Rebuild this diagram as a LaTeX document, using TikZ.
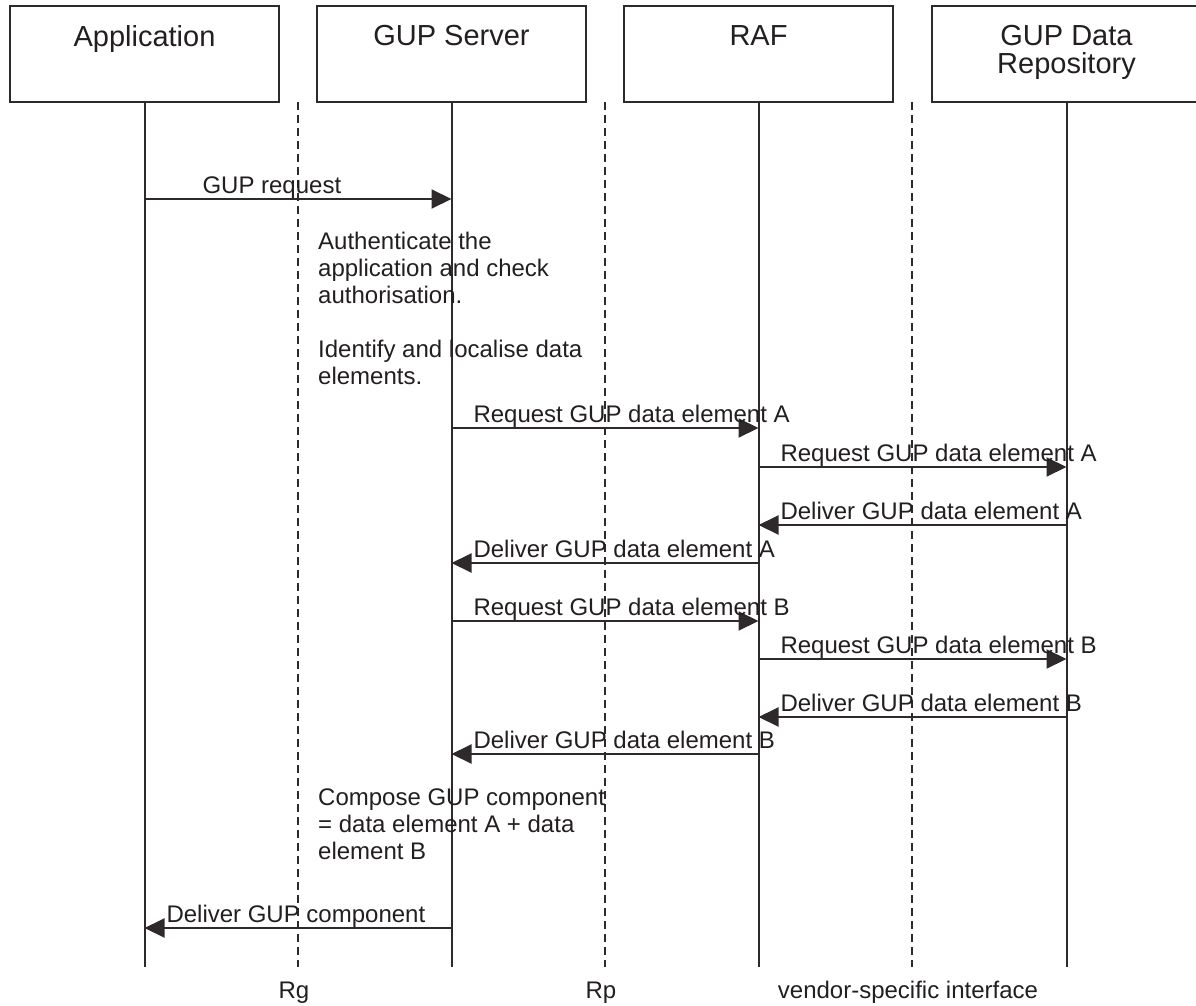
\documentclass[tikz,border=0pt]{standalone}
\usepackage{fontspec}
\setmainfont{Liberation Sans}
\usetikzlibrary{arrows.meta}
\definecolor{ink}{RGB}{46,41,42}
\definecolor{txt}{RGB}{35,31,32}

\begin{document}
\begin{tikzpicture}[x=1pt,y=-1pt,
  actor/.style={draw=ink, line width=2pt, minimum width=269pt, minimum height=96pt, inner sep=0pt},
  actorlabel/.style={font=\fontsize{29}{28}\selectfont, text=txt, align=center, anchor=north, inner sep=0pt},
  life/.style={draw=ink, line width=2pt},
  iface/.style={draw=ink, line width=1.8pt, dash pattern=on 8pt off 5pt},
  msg/.style={draw=ink, line width=2pt, -{Triangle[length=20pt,width=19pt]}},
  lbl/.style={font=\fontsize{24}{27}\selectfont, text=txt, anchor=base west, inner sep=0pt, xshift=21pt, yshift=6pt},
  note/.style={font=\fontsize{24}{27}\selectfont, text=txt, align=left, anchor=north west, inner sep=0pt},
  ifacelabel/.style={font=\fontsize{24}{27}\selectfont, text=txt, anchor=base, inner sep=0pt}
]
\useasboundingbox (0,0) rectangle (1196,1006);
\fill[white] (0,0) rectangle (1196,1006);

% participants
\node[actor] (app) at (144.5,54) {};
\node[actor] (srv) at (451.5,54) {};
\node[actor] (raf) at (758.5,54) {};
\node[actor] (gdr) at (1066.5,54) {};
\node[actorlabel] (appT) at (144.5,25) {Application};
\node[actorlabel] (srvT) at (451.5,25) {GUP Server};
\node[actorlabel] (rafT) at (758.5,25) {RAF};
\node[actorlabel] (gdrT) at (1066.5,25) {GUP Data\\Repository};

% lifelines
\coordinate (lifeEnd) at (0,967);
\draw[life] (app.south) -- (app.south |- lifeEnd);
\draw[life] (srv.south) -- (srv.south |- lifeEnd);
\draw[life] (raf.south) -- (raf.south |- lifeEnd);
\draw[life] (gdr.south) -- (gdr.south |- lifeEnd);

% interfaces
\coordinate (rgTop) at (298,102);
\coordinate (rpTop) at (605,102);
\coordinate (vsTop) at (912,102);
\draw[iface] (rgTop) -- (rgTop |- lifeEnd);
\draw[iface] (rpTop) -- (rpTop |- lifeEnd);
\draw[iface] (vsTop) -- (vsTop |- lifeEnd);
\node[ifacelabel] (rg) at (294,998) {Rg};
\node[ifacelabel] (rp) at (601,998) {Rp};
\node[ifacelabel] (vs) at (908,998) {vendor-specific interface};

% message rows
\coordinate (r1) at (0,199);
\coordinate (r2) at (0,428);
\coordinate (r3) at (0,467);
\coordinate (r4) at (0,525);
\coordinate (r5) at (0,563);
\coordinate (r6) at (0,621);
\coordinate (r7) at (0,659);
\coordinate (r8) at (0,717);
\coordinate (r9) at (0,754);
\coordinate (r10) at (0,928);

\draw[msg] (app |- r1) -- (srv |- r1) node[at start, lbl, xshift=36pt] {GUP request};

\node[note] (auth) at (318,232) {Authenticate the\\application and check\\authorisation.\\[27pt]Identify and localise data\\elements.};

\draw[msg] (srv |- r2) -- (raf |- r2) node[at start, lbl] {Request GUP data element A};
\draw[msg] (raf |- r3) -- (gdr |- r3) node[at start, lbl] {Request GUP data element A};
\draw[msg] (gdr |- r4) -- (raf |- r4) node[at end, lbl] {Deliver GUP data element A};
\draw[msg] (raf |- r5) -- (srv |- r5) node[at end, lbl] {Deliver GUP data element A};
\draw[msg] (srv |- r6) -- (raf |- r6) node[at start, lbl] {Request GUP data element B};
\draw[msg] (raf |- r7) -- (gdr |- r7) node[at start, lbl] {Request GUP data element B};
\draw[msg] (gdr |- r8) -- (raf |- r8) node[at end, lbl] {Deliver GUP data element B};
\draw[msg] (raf |- r9) -- (srv |- r9) node[at end, lbl] {Deliver GUP data element B};

\node[note] (comp) at (318,789) {Compose GUP component\\= data element A + data\\element B};

\draw[msg] (srv |- r10) -- (app |- r10) node[at end, lbl] {Deliver GUP component};
\end{tikzpicture}
\end{document}
